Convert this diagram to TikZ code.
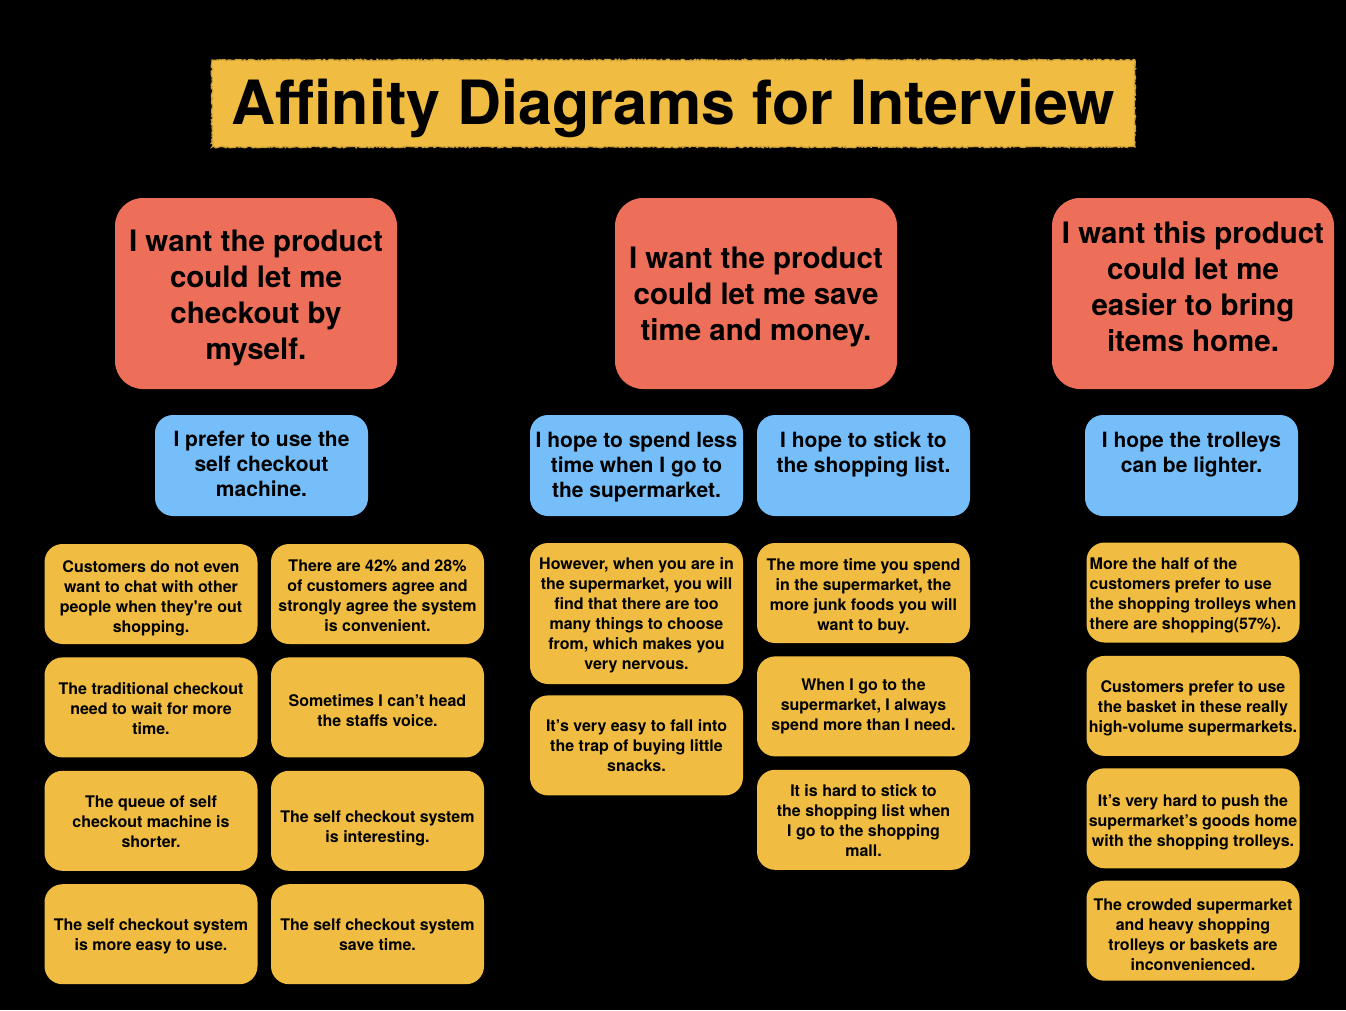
\documentclass[tikz,border=0pt]{standalone}
\usepackage{fontspec}
\setmainfont{TeX Gyre Heros}
\usepackage{tikz}
\usetikzlibrary{positioning, decorations.pathmorphing}
\definecolor{notered}{RGB}{237,111,90}
\definecolor{noteblue}{RGB}{117,190,250}
\definecolor{noteyellow}{RGB}{240,188,66}

\begin{document}
\begin{tikzpicture}[
    x=1pt, y=-1pt,
    node distance=13pt,
    banner/.style={rectangle, fill=noteyellow, draw=noteyellow!85!black, line width=1.2pt, decorate, decoration={random steps, segment length=1.5pt, amplitude=0.9pt}, minimum width=923pt, minimum height=87pt, inner sep=0pt, text height=56pt, font=\bfseries\fontsize{61}{70}\selectfont},
    need/.style={rectangle, fill=notered, rounded corners=28pt, minimum width=282pt, minimum height=191pt, inner sep=0pt, align=center, font=\bfseries\fontsize{29.5}{36}\selectfont},
    wish/.style={rectangle, fill=noteblue, rounded corners=18pt, minimum width=213pt, minimum height=101pt, inner sep=0pt, align=center, font=\bfseries\fontsize{21}{25}\selectfont},
    note/.style={rectangle, fill=noteyellow, rounded corners=18pt, minimum width=213pt, minimum height=100pt, inner sep=0pt, align=center, font=\bfseries\fontsize{16}{20}\selectfont}
]
    % background and page size
    \fill[black] (0,0) rectangle (1346,1010);
    \useasboundingbox (0,0) rectangle (1346,1010);

    \node (title) [banner] at (673.5,103.5) {Affinity Diagrams for Interview};

    % needs
    \node (checkout) [need, text height=138pt] at (256,293.5) {I want the product\\could let me\\checkout by\\myself.};
    \node (saving) [need, text height=101pt] at (756,293.5) {I want the product\\could let me save\\time and money.};
    \node (carrying) [need, text height=117pt] at (1193,293.5) {I want this product\\could let me\\easier to bring\\items home.};

    % wishes
    \node (selfco) [wish, text height=63pt] at (261.5,465.5) {I prefer to use the\\self checkout\\machine.};
    \node (lesstime) [wish, text height=69pt] at (636.5,465.5) {I hope to spend less\\time when I go to\\the supermarket.};
    \node (list) [wish, text height=71pt] at (863.5,465.5) {I hope to stick to\\the shopping list.\\\strut};
    \node (trolleys) [wish, text height=71pt] at (1191.5,465.5) {I hope the trolleys\\can be lighter.\\\strut};

    % self checkout notes
    \node (chat) [note, text height=79.5pt] at (151,594) {Customers do not even\\want to chat with other\\people when they\textquotesingle re out\\shopping.};
    \node (waiting) [note, text height=53.5pt, below=of chat] {The traditional checkout\\need to wait for more\\time.};
    \node (queue) [note, text height=53.5pt, below=of waiting] {The queue of self\\checkout machine is\\shorter.};
    \node (easyuse) [note, text height=35.5pt, below=of queue] {The self checkout system\\is more easy to use.};

    \node (agree) [note, text height=75.5pt] at (377.5,594) {There are 42\% and 28\%\\of customers agree and\\strongly agree the system\\is convenient.};
    \node (hear) [note, text height=37.5pt, below=of agree] {Sometimes I can’t head\\the staffs voice.};
    \node (interest) [note, text height=47.5pt, below=of hear] {The self checkout system\\is interesting.};
    \node (fast) [note, text height=33.5pt, below=of interest] {The self checkout system\\save time.};

    % time and money notes
    \node (choose) [note, minimum height=141pt, text height=115.5pt] at (636.5,613.5) {However, when you are in\\the supermarket, you will\\find that there are too\\many things to choose\\from, which makes you\\very nervous.};
    \node (snacks) [note, below=11pt of choose] {It’s very easy to fall into\\the trap of buying little\\snacks.};

    \node (junk) [note, text height=77.5pt] at (863.5,593) {The more time you spend\\in the supermarket, the\\more junk foods you will\\want to buy.};
    \node (overspend) [note, below=of junk] {When I go to the\\supermarket, I always\\spend more than I need.};
    \node (hardlist) [note, text height=73.5pt, below=of overspend] {It is hard to stick to\\the shopping list when\\I go to the shopping\\mall.};

    % carrying notes
    \node (half) [note, align=left, text height=77.5pt] at (1193,592.5) {More the half of the\\customers prefer to use\\the shopping trolleys when\\there are shopping(57\%).};
    \node (basket) [note, text height=57.5pt, below=of half] {Customers prefer to use\\the basket in these really\\high-volume supermarkets.};
    \node (pushhome) [note, text height=59.5pt, below=12pt of basket] {It’s very hard to push the\\supermarket’s goods home\\with the shopping trolleys.};
    \node (crowded) [note, text height=79.5pt, below=12pt of pushhome] {The crowded supermarket\\and heavy shopping\\trolleys or baskets are\\inconvenienced.};
\end{tikzpicture}
\end{document}
